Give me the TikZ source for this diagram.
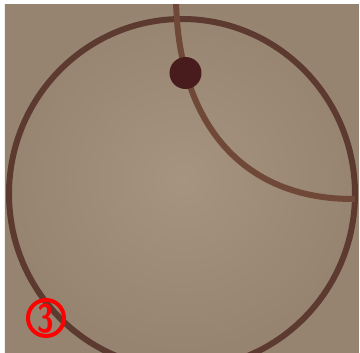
\documentclass[tikz,border=0pt]{standalone}
\usetikzlibrary{shadings}
\definecolor{bgin}{RGB}{166,148,128}
\definecolor{bgout}{RGB}{150,132,112}
\definecolor{ringc}{RGB}{92,58,48}
\definecolor{arcc}{RGB}{112,72,56}
\definecolor{dotc}{RGB}{72,28,28}
\tikzset{
  ringline/.style={draw=ringc, line width=6pt},
  arcline/.style={draw=arcc, line width=6pt},
  dotmark/.style={circle, fill=dotc, inner sep=0pt, minimum size=32pt},
  labelring/.style={circle, draw=red, line width=4pt, inner sep=0pt, minimum size=36pt},
  labeltext/.style={text=red, font=\sffamily\bfseries\fontsize{40}{40}\selectfont, inner sep=0pt, xscale=0.75, transform shape}
}
\begin{document}
\begin{tikzpicture}[x=1pt, y=-1pt]
\useasboundingbox (0,0) rectangle (360,353);
\fill[white] (0,0) rectangle (360,353);
\begin{scope}
\clip (5,5) rectangle (359,353);
\shade[inner color=bgin, outer color=bgout] (5,5) rectangle (359,353);
% large hand-drawn circle
\coordinate (ringc0) at (182,194);
\draw[ringline] (ringc0) ellipse[x radius=173pt, y radius=175pt];
% inner arc
\coordinate (arcTop) at (176,0);
\coordinate (arcEnd) at (355,199);
\draw[arcline] (arcTop) .. controls (178,120) and (240,200) .. (arcEnd);
\end{scope}
\node[dotmark] (dot) at (185.5,73) {};
\node[labelring] (lab) at (46,318) {};
\node[labeltext] (labnum) at (46,318.5) {3};
\end{tikzpicture}
\end{document}
